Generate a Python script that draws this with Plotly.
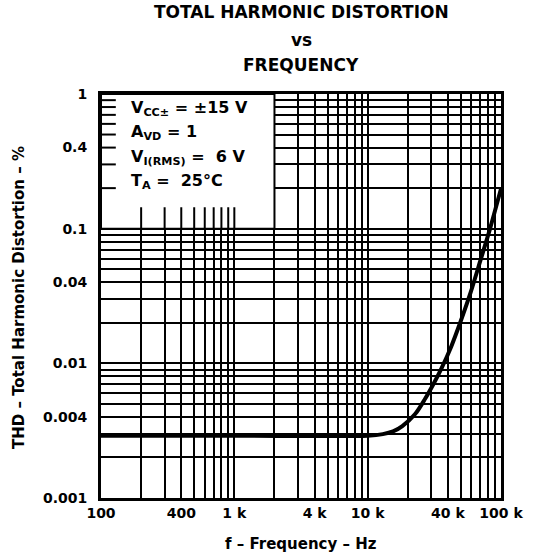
import plotly.graph_objects as go

# THD curve
FREQ_HZ = [100, 1000, 10000, 13000, 15500, 18200, 22700, 26900, 31300, 35700, 42300,
           50000, 59200, 70100, 83000, 98000, 100000]
THD_PCT = [0.0029, 0.0029, 0.0029, 0.00298, 0.00312, 0.00342, 0.0042, 0.00543, 0.00708, 0.00914,
           0.0133, 0.0207, 0.0336, 0.0581, 0.101, 0.184, 0.198]

X_GRID = [m * 10 ** e for e in (2, 3, 4) for m in range(1, 10)] + [100000]
X_LABELS = {100: "100", 400: "400", 1000: "1 k", 4000: "4 k", 10000: "10 k",
            40000: "40 k", 100000: "100 k"}
Y_GRID = [round(m * 10 ** e, 6) for e in (-3, -2, -1) for m in range(1, 10)] + [1]
Y_LABELS = {0.001: "0.001", 0.004: "0.004", 0.01: "0.01", 0.04: "0.04",
            0.1: "0.1", 0.4: "0.4", 1: "1"}

# legend box spans these data values
BOX_X = [100, 2000]
BOX_Y = [0.1, 1]
LEGEND_LINES = [
    "V<sub>CC±</sub> = ±15 V",
    "A<sub>VD</sub> = 1",
    "V<sub>I(RMS)</sub> =  6 V",
    "T<sub>A</sub> =  25°C",
]
TITLE_LINES = ["TOTAL HARMONIC DISTORTION", "vs", "FREQUENCY"]

FONT = "DejaVu Sans, Liberation Sans, sans-serif"
INK = "black"
W, H = 535, 555
L, R, T, B = 101, 24, 94, 57
PW, PH = W - L - R, H - T - B


def px_x(px):
    return (px - L) / PW


def px_y(py):
    return (H - B - py) / PH


fig = go.Figure()
fig.add_trace(go.Scatter(x=FREQ_HZ, y=THD_PCT, mode="lines",
                         line=dict(color=INK, width=4, shape="spline", smoothing=0.8),
                         hoverinfo="skip", showlegend=False))

axis_common = dict(type="log", showgrid=True, gridcolor=INK, gridwidth=2,
                   showline=True, linecolor=INK, linewidth=3, mirror=True,
                   ticks="", zeroline=False,
                   tickfont=dict(family=FONT, size=14, color=INK, weight="bold"))

fig.update_xaxes(range=[2, 5], tickmode="array", tickvals=X_GRID,
                 ticktext=[X_LABELS.get(v, "") for v in X_GRID], **axis_common)
fig.update_yaxes(range=[-3, 0], tickmode="array", tickvals=Y_GRID,
                 ticktext=[Y_LABELS.get(v, "") for v in Y_GRID],
                 ticklabelstandoff=8, **axis_common)

# white legend box covering the grid
fig.add_shape(type="rect", x0=BOX_X[0], x1=BOX_X[1], y0=BOX_Y[0], y1=BOX_Y[1],
              xref="x", yref="y", fillcolor="white", line=dict(color=INK, width=2),
              layer="above")
# short grid stubs left visible inside the box
for v in Y_GRID:
    if BOX_Y[0] < v < BOX_Y[1]:
        fig.add_shape(type="line", xref="x domain", yref="y", x0=0, x1=0.037, y0=v, y1=v,
                      line=dict(color=INK, width=2), layer="above")
for v in X_GRID:
    if BOX_X[0] < v <= 1000:
        fig.add_shape(type="line", xref="x", yref="y domain", x0=v, x1=v,
                      y0=2 / 3, y1=2 / 3 + 0.053, line=dict(color=INK, width=2), layer="above")

for i, txt in enumerate(LEGEND_LINES):
    fig.add_annotation(text=txt, xref="paper", yref="paper", x=px_x(130), y=px_y(108 + i * 24.5),
                       xanchor="left", yanchor="middle", showarrow=False,
                       font=dict(family=FONT, size=16, color=INK, weight="bold"))

for txt, py in zip(TITLE_LINES, [12, 40, 65]):
    fig.add_annotation(text=txt, xref="paper", yref="paper", x=px_x(306), y=px_y(py),
                       xanchor="center", yanchor="middle", showarrow=False,
                       font=dict(family=FONT, size=17, color=INK, weight="bold"))

fig.add_annotation(text="f – Frequency – Hz", xref="paper", yref="paper",
                   x=px_x(306), y=px_y(544), xanchor="center", yanchor="middle",
                   showarrow=False, font=dict(family=FONT, size=15, color=INK, weight="bold"))
fig.add_annotation(text="THD – Total Harmonic Distortion – %", xref="paper", yref="paper",
                   x=px_x(17), y=px_y(298), xanchor="center", yanchor="middle", textangle=-90,
                   showarrow=False, font=dict(family=FONT, size=15, color=INK, weight="bold"))

fig.update_layout(
    width=W, height=H, autosize=False,
    margin=dict(l=L, r=R, t=T, b=B),
    paper_bgcolor="white", plot_bgcolor="white",
)

fig.write_html("out.html", config={"displayModeBar": False},
               post_script="document.body.style.margin='0px';")
